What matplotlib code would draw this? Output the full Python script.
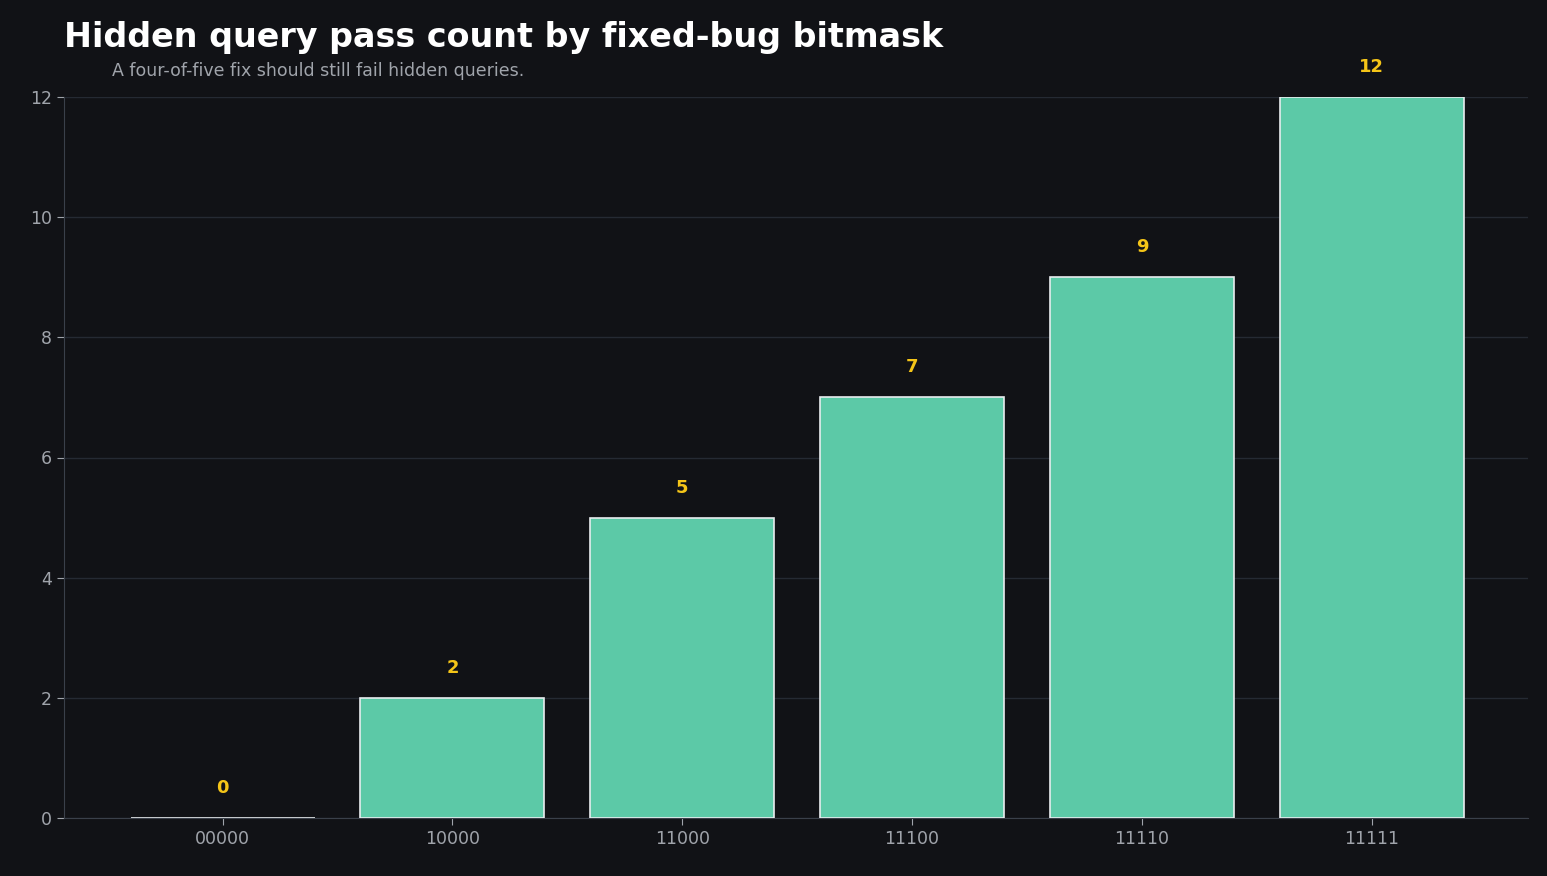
import matplotlib
matplotlib.use("Agg")
import matplotlib.pyplot as plt

categories = ["00000", "10000", "11000", "11100", "11110", "11111"]
values = [0, 2, 5, 7, 9, 12]

bg = "#111216"
fig = plt.figure(figsize=(15.47, 8.76), dpi=100, facecolor=bg)
ax = fig.add_axes([64/1547, 1-818/876, (1528-64)/1547, (818-97)/876], facecolor=bg)
x = range(len(categories))
ax.bar(x, values, width=0.8, color="#5cc9a7", edgecolor="#e8ecef", linewidth=1.2, zorder=3)
for xi, v in zip(x, values):
    ax.text(xi, v + 0.5, str(v), ha="center", va="center", color="#f5c518",
            fontsize=13, fontweight="bold", zorder=4)
ax.set_xticks(list(x))
ax.set_xticklabels(categories)
ax.set_xlim(-0.69, 5.68)
ax.set_ylim(0, 12)
ax.set_yticks(range(0, 13, 2))
ax.grid(axis="y", color="#252a33", linewidth=1, zorder=0)
ax.tick_params(colors="#a0a4ab", labelsize=12.5, length=5)
for s in ["top", "right"]:
    ax.spines[s].set_visible(False)
for s in ["left", "bottom"]:
    ax.spines[s].set_color("#3a404a")
fig.text(64/1547, 1-38/876, "Hidden query pass count by fixed-bug bitmask", color="white",
         fontsize=24, fontweight="bold", va="center", ha="left")
fig.text(112/1547, 1-71/876, "A four-of-five fix should still fail hidden queries.",
         color="#a0a4ab", fontsize=12.5, va="center", ha="left")
fig.savefig("out.png", dpi=100, facecolor=bg)
